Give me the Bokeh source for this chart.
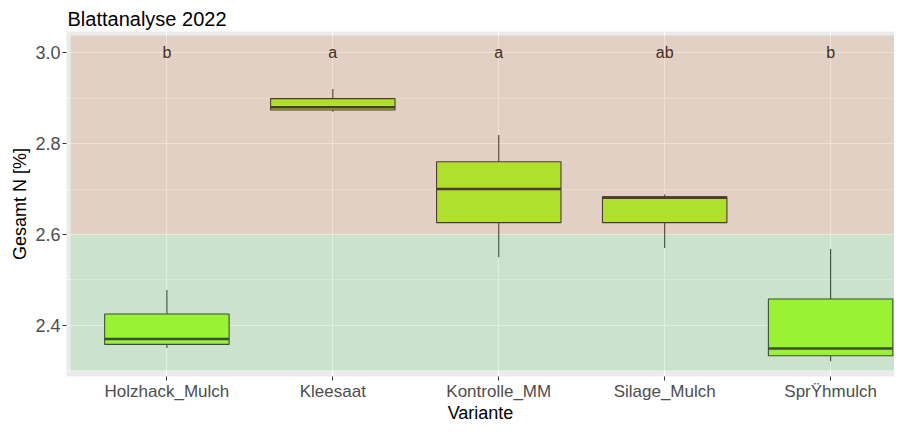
import numpy as np
from bokeh.plotting import figure
from bokeh.models import Range1d, FixedTicker, ColumnDataSource, PrintfTickFormatter
from bokeh.core.properties import value
from bokeh.embed import file_html
from bokeh.resources import INLINE

# ---- data ----
categories = ["Holzhack_Mulch", "Kleesaat", "Kontrolle_MM", "Silage_Mulch", "SprŸhmulch"]
whisker_low = [2.350, 2.870, 2.550, 2.570, 2.321]
q1 = [2.358, 2.874, 2.626, 2.626, 2.333]
median = [2.370, 2.880, 2.700, 2.681, 2.349]
q3 = [2.425, 2.899, 2.760, 2.683, 2.458]
whisker_high = [2.478, 2.920, 2.819, 2.688, 2.568]
letters = ["b", "a", "a", "ab", "b"]
letter_y = [3.0, 3.0, 3.0, 3.0, 3.0]
y_ticks = [2.4, 2.6, 2.8, 3.0]
y_minor = [2.3, 2.5, 2.7, 2.9]
zone_bottom = [2.3, 2.6]
zone_top = [2.6, 3.038]
zone_colors = ["#50BE50", "#BE6428"]

FONT = "Liberation Sans"
xpos = list(range(1, len(categories) + 1))

p = figure(width=894, height=425, output_backend="svg", toolbar_location=None,
           x_range=Range1d(0.395, 5.385), y_range=Range1d(2.2874, 3.0467),
           min_border_left=66, min_border_right=0, min_border_top=31, min_border_bottom=44,
           title="Blattanalyse 2022")
p.background_fill_color = "#EBEBEB"
p.border_fill_color = "white"
p.outline_line_color = None

p.title.text_font = FONT
p.title.text_font_size = "20px"
p.title.text_font_style = "normal"
p.title.text_color = "black"
p.title.offset = 1
p.title.standoff = 4

# axes
p.xaxis.ticker = FixedTicker(ticks=xpos)
p.xaxis.major_label_overrides = {i: c for i, c in zip(xpos, categories)}
p.yaxis.ticker = FixedTicker(ticks=y_ticks, minor_ticks=y_minor)
p.yaxis.formatter = PrintfTickFormatter(format="%.1f")
for ax in (p.xaxis, p.yaxis):
    ax.axis_line_color = None
    ax.major_tick_line_color = "#333333"
    ax.major_tick_out = 4
    ax.major_tick_in = 0
    ax.minor_tick_line_color = None
    ax.major_label_text_font = FONT
    ax.major_label_text_color = "#4D4D4D"
    ax.axis_label_text_font = FONT
    ax.axis_label_text_font_size = "18px"
    ax.axis_label_text_font_style = "normal"
    ax.axis_label_text_color = "black"
p.xaxis.major_label_text_font_size = "17px"
p.yaxis.major_label_text_font_size = "18px"
p.xaxis.axis_label = "Variante"
p.yaxis.axis_label = "Gesamt N [%]"
p.xaxis.major_label_standoff = 1
p.xaxis.axis_label_standoff = -1
p.yaxis.major_label_standoff = 2
p.yaxis.axis_label_standoff = 2

p.xgrid.grid_line_color = "white"
p.xgrid.grid_line_width = 1.2
p.ygrid.grid_line_color = "white"
p.ygrid.grid_line_width = 1.2
p.ygrid.minor_grid_line_color = "white"
p.ygrid.minor_grid_line_width = 0.6

src = ColumnDataSource(dict(x=xpos, lo=whisker_low, q1=q1, med=median, q3=q3, hi=whisker_high,
                            lab=letters, ly=letter_y,
                            ml=[x - 0.375 for x in xpos], mr=[x + 0.375 for x in xpos]))

# whiskers
p.segment(x0="x", y0="q3", x1="x", y1="hi", source=src, line_color="#333333", line_width=1.1)
p.segment(x0="x", y0="lo", x1="x", y1="q1", source=src, line_color="#333333", line_width=1.1)
# boxes
p.vbar(x="x", bottom="q1", top="q3", width=0.75, source=src, fill_color="#ADFF2F",
       line_color="#333333", line_width=1.1)
# medians
p.segment(x0="ml", y0="med", x1="mr", y1="med", source=src, line_color="#333333", line_width=2.6)
# significance letters
p.text(x="x", y="ly", text="lab", source=src, text_font=value(FONT), text_font_size="16px",
       text_color="#222222", text_align="center", text_baseline="middle")
# translucent zones drawn on top
p.quad(left=[0.42, 0.42], right=[5.6, 5.6], bottom=zone_bottom, top=zone_top,
       fill_color=zone_colors, fill_alpha=0.2, line_color=None)

open("out.html", "w").write(file_html(p, INLINE))
